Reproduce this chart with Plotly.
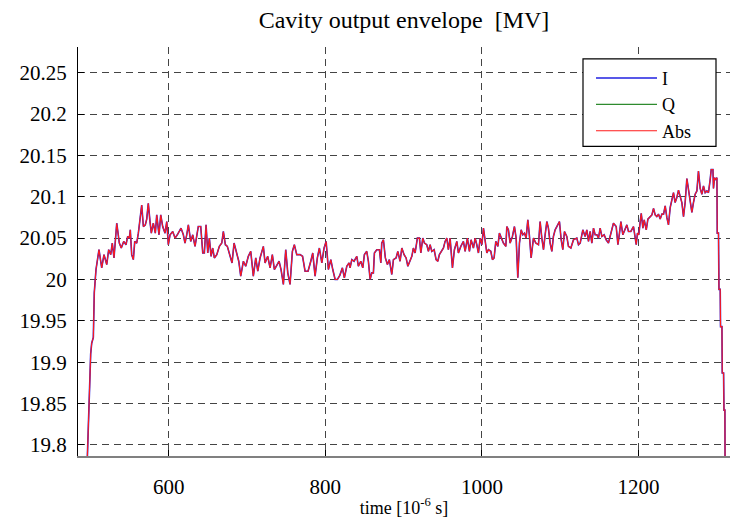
import plotly.graph_objects as go

# time axis [1e-6 s] and Abs envelope [MV]
time_us = [
    495.1, 498.1, 500.2, 501.5, 503.6, 504.8, 507.0, 510.8, 514.3, 517.2, 520.7, 523.2, 525.8, 527.8,
    530.0, 533.5, 536.8, 539.3, 542.4, 545.3, 547.5, 549.6, 550.8, 552.6, 554.7, 556.5, 559.0, 561.1,
    563.2, 565.4, 567.5, 570.0, 571.8, 573.8, 576.0, 577.7, 580.2, 582.8, 584.6, 587.5, 589.7, 592.2,
    595.2, 597.4, 599.4, 601.6, 605.0, 608.0, 610.9, 613.5, 615.6, 618.6, 620.7, 622.9, 625.0, 628.0,
    630.6, 633.5, 637.7, 640.8, 643.4, 645.4, 647.6, 649.8, 651.8, 654.0, 656.1, 658.2, 661.3, 664.6,
    667.7, 669.7, 672.3, 674.8, 678.3, 680.8, 683.4, 686.8, 689.4, 691.9, 695.3, 698.3, 701.6, 704.7,
    708.0, 711.1, 713.7, 716.6, 720.8, 723.0, 726.4, 729.4, 732.3, 734.9, 737.7, 740.9, 743.4, 746.4,
    749.4, 752.0, 754.9, 757.9, 760.4, 763.5, 767.7, 770.9, 774.1, 777.9, 781.4, 783.9, 786.9, 789.8,
    792.4, 795.5, 798.4, 801.0, 803.9, 807.0, 809.5, 812.5, 815.4, 818.5, 821.8, 824.3, 827.4, 830.3,
    831.6, 833.8, 836.7, 840.2, 842.2, 845.3, 847.8, 849.9, 852.9, 855.0, 857.2, 859.3, 861.4, 862.7,
    865.7, 869.1, 870.9, 872.1, 874.2, 876.7, 879.3, 881.8, 884.9, 887.0, 890.4, 892.6, 895.5, 897.7,
    900.6, 903.2, 905.4, 908.3, 910.5, 912.5, 914.7, 917.6, 920.2, 922.0, 924.5, 926.6, 929.6, 931.7,
    933.9, 936.0, 939.0, 941.5, 943.7, 945.7, 948.8, 950.9, 953.0, 955.2, 957.2, 959.4, 962.4, 964.9,
    968.0, 970.0, 973.1, 976.4, 978.6, 981.5, 984.1, 986.2, 989.2, 991.4, 993.5, 995.6, 997.8, 1000.0,
    1002.0, 1004.1, 1006.3, 1008.4, 1011.4, 1013.5, 1015.6, 1017.8, 1020.4, 1022.4, 1024.6, 1027.5,
    1030.6, 1031.9, 1033.9, 1036.1, 1039.0, 1041.6, 1043.8, 1045.9, 1048.0, 1050.2, 1052.3, 1054.4,
    1056.5, 1058.7, 1060.8, 1062.9, 1065.9, 1068.9, 1072.3, 1074.4, 1076.6, 1078.7, 1080.8, 1083.0,
    1085.0, 1087.2, 1089.4, 1091.4, 1093.6, 1095.8, 1099.1, 1101.3, 1103.4, 1105.5, 1108.5, 1110.6,
    1113.7, 1117.0, 1121.3, 1123.4, 1125.6, 1129.0, 1131.9, 1134.1, 1136.2, 1138.3, 1140.5, 1142.6,
    1144.7, 1147.0, 1149.0, 1151.1, 1153.3, 1156.2, 1158.8, 1161.7, 1164.8, 1168.1, 1171.6, 1173.8,
    1175.8, 1177.6, 1180.1, 1182.2, 1185.2, 1187.3, 1190.3, 1193.7, 1195.9, 1197.2, 1198.8, 1200.5,
    1202.3, 1203.6, 1205.7, 1207.4, 1210.0, 1212.1, 1214.2, 1217.2, 1219.3, 1221.4, 1223.5, 1225.6,
    1227.8, 1230.0, 1232.1, 1234.2, 1236.3, 1238.4, 1240.6, 1242.7, 1244.8, 1246.9, 1249.1, 1251.2,
    1253.4, 1255.5, 1257.6, 1259.7, 1261.9, 1263.9, 1266.1, 1268.3, 1270.3, 1272.5, 1274.7, 1276.7,
    1278.9, 1281.1, 1283.1, 1285.3, 1287.5, 1289.5, 1291.7, 1293.0, 1295.2, 1295.9, 1297.2, 1298.6,
    1300.3, 1300.7, 1302.3, 1302.9, 1304.5, 1304.9, 1306.7, 1307.1, 1308.8, 1309.3, 1310.5, 1310.9,
]

abs_mv = [
    19.760, 19.866, 19.910, 19.923, 19.930, 19.984, 20.012, 20.036, 20.014, 20.030, 20.018, 20.036, 20.030, 20.044,
    20.026, 20.068, 20.044, 20.038, 20.046, 20.042, 20.052, 20.050, 20.060, 20.030, 20.024, 20.046, 20.044, 20.056,
    20.074, 20.090, 20.064, 20.066, 20.073, 20.092, 20.070, 20.056, 20.068, 20.056, 20.078, 20.054, 20.078, 20.064,
    20.056, 20.070, 20.042, 20.054, 20.058, 20.050, 20.054, 20.058, 20.062, 20.054, 20.044, 20.054, 20.066, 20.046,
    20.054, 20.040, 20.064, 20.064, 20.032, 20.032, 20.066, 20.032, 20.050, 20.028, 20.038, 20.026, 20.030, 20.040,
    20.044, 20.058, 20.042, 20.040, 20.028, 20.020, 20.044, 20.032, 20.022, 20.004, 20.022, 20.016, 20.028, 20.034,
    20.004, 20.026, 20.010, 20.026, 20.040, 20.020, 20.028, 20.014, 20.030, 20.012, 20.016, 20.022, 20.012, 19.994,
    20.036, 20.008, 19.994, 20.034, 20.042, 20.030, 20.030, 20.028, 20.010, 20.010, 20.022, 20.032, 20.004, 20.026,
    20.038, 20.020, 20.038, 20.046, 20.012, 20.024, 20.012, 20.000, 20.000, 20.005, 20.014, 20.002, 20.016, 20.020,
    20.014, 20.024, 20.022, 20.028, 20.016, 20.022, 20.014, 20.030, 20.034, 20.022, 20.000, 20.008, 20.008, 20.032,
    20.036, 20.036, 20.020, 20.044, 20.048, 20.026, 20.018, 20.024, 20.006, 20.024, 20.026, 20.034, 20.022, 20.038,
    20.030, 20.026, 20.016, 20.024, 20.028, 20.038, 20.032, 20.050, 20.050, 20.032, 20.050, 20.044, 20.042, 20.034,
    20.042, 20.034, 20.036, 20.024, 20.022, 20.030, 20.036, 20.038, 20.046, 20.050, 20.036, 20.050, 20.014, 20.036,
    20.046, 20.032, 20.040, 20.046, 20.034, 20.050, 20.034, 20.048, 20.038, 20.050, 20.042, 20.032, 20.050, 20.042,
    20.062, 20.046, 20.032, 20.036, 20.034, 20.024, 20.026, 20.046, 20.040, 20.056, 20.050, 20.044,
    20.040, 20.064, 20.060, 20.044, 20.052, 20.064, 20.050, 20.002, 20.044, 20.060, 20.054, 20.056,
    20.050, 20.072, 20.052, 20.026, 20.050, 20.044, 20.042, 20.070, 20.050, 20.036, 20.054, 20.070,
    20.062, 20.044, 20.034, 20.052, 20.060, 20.064, 20.070, 20.048, 20.036, 20.058, 20.052, 20.040,
    20.038, 20.048, 20.050, 20.042, 20.044, 20.060, 20.052, 20.060, 20.046, 20.058, 20.044, 20.062,
    20.054, 20.054, 20.050, 20.062, 20.052, 20.054, 20.048, 20.044, 20.056, 20.068, 20.064, 20.042,
    20.056, 20.070, 20.054, 20.060, 20.066, 20.058, 20.058, 20.064, 20.052, 20.042, 20.056, 20.054,
    20.070, 20.080, 20.062, 20.072, 20.060, 20.073, 20.075, 20.078, 20.086, 20.078, 20.076, 20.079,
    20.073, 20.079, 20.079, 20.089, 20.075, 20.066, 20.087, 20.095, 20.105, 20.093, 20.099, 20.108,
    20.099, 20.093, 20.076, 20.093, 20.122, 20.110, 20.098, 20.081, 20.093, 20.103, 20.107, 20.131,
    20.110, 20.103, 20.113, 20.105, 20.107, 20.105, 20.121, 20.133, 20.133, 20.110, 20.123, 20.121,
    20.123, 20.056, 20.056, 19.988, 19.988, 19.943, 19.943, 19.887, 19.887, 19.842, 19.842, 19.700,
]

# In-phase component: practically equal to the magnitude (Q is near zero)
i_mv = list(abs_mv)

# Quadrature component: stays near zero, far below the visible window
q_time_us = [495.0, 600.0, 800.0, 1000.0, 1200.0, 1310.0]
q_mv = [0.01, 0.02, 0.02, 0.03, 0.03, 0.02]

y_ticks = [19.8, 19.85, 19.9, 19.95, 20.0, 20.05, 20.1, 20.15, 20.2, 20.25]
y_tick_text = ["19.8", "19.85", "19.9", "19.95", "20", "20.05", "20.1", "20.15", "20.2", "20.25"]
x_ticks = [600, 800, 1000, 1200]

serif = "Liberation Serif"

fig = go.Figure()
fig.add_trace(go.Scatter(x=time_us, y=i_mv, mode="lines", name="I",
                         line=dict(color="#2020e0", width=1.6)))
fig.add_trace(go.Scatter(x=q_time_us, y=q_mv, mode="lines", name="Q",
                         line=dict(color="#2e8b2e", width=1.2)))
fig.add_trace(go.Scatter(x=time_us, y=abs_mv, mode="lines", name="Abs",
                         line=dict(color="#ff1a1a", width=1.1)))

# legend frame (drawn as a paper-anchored rectangle so it can be wider than the entries)
fig.add_shape(type="rect", xref="paper", yref="paper",
              x0=(583 - 78) / 652, x1=(716 - 78) / 652,
              y0=(463 - 148) / 416, y1=(463 - 59) / 416,
              line=dict(color="black", width=1.2), fillcolor="white", layer="above")

fig.update_layout(
    width=730, height=518,
    margin=dict(l=78, r=0, t=47, b=55),
    paper_bgcolor="white", plot_bgcolor="white",
    font=dict(family=serif, size=20, color="black"),
    title=dict(text="Cavity output envelope  [MV]", x=(78 + 326) / 730, xanchor="center",
               y=1 - 20 / 518, yanchor="middle", font=dict(size=24)),
    showlegend=True,
    legend=dict(x=(591 - 78) / 652, y=(463 - 60) / 416, xanchor="left", yanchor="top",
                bgcolor="rgba(0,0,0,0)", borderwidth=0,
                font=dict(size=18), itemwidth=61, tracegroupgap=0),
    xaxis=dict(range=[484, 1317], tickmode="array", tickvals=x_ticks,
               ticks="inside", ticklen=6, tickcolor="black", ticklabelstandoff=11,
               showgrid=True, gridcolor="#444444", gridwidth=1, griddash="7px,5px",
               showline=True, linecolor="#808080", linewidth=2, zeroline=False,
               tickfont=dict(size=21),
               title=dict(text="time [10<sup>-6</sup> s]", font=dict(size=18), standoff=6)),
    yaxis=dict(range=[19.7866, 20.281], tickmode="array", tickvals=y_ticks, ticktext=y_tick_text,
               ticks="inside", ticklen=6, tickcolor="black", ticklabelstandoff=6,
               showgrid=True, gridcolor="#444444", gridwidth=1, griddash="7px,5px",
               showline=True, linecolor="black", linewidth=1, zeroline=False,
               tickfont=dict(size=21)),
)

fig.write_html("out.html")
